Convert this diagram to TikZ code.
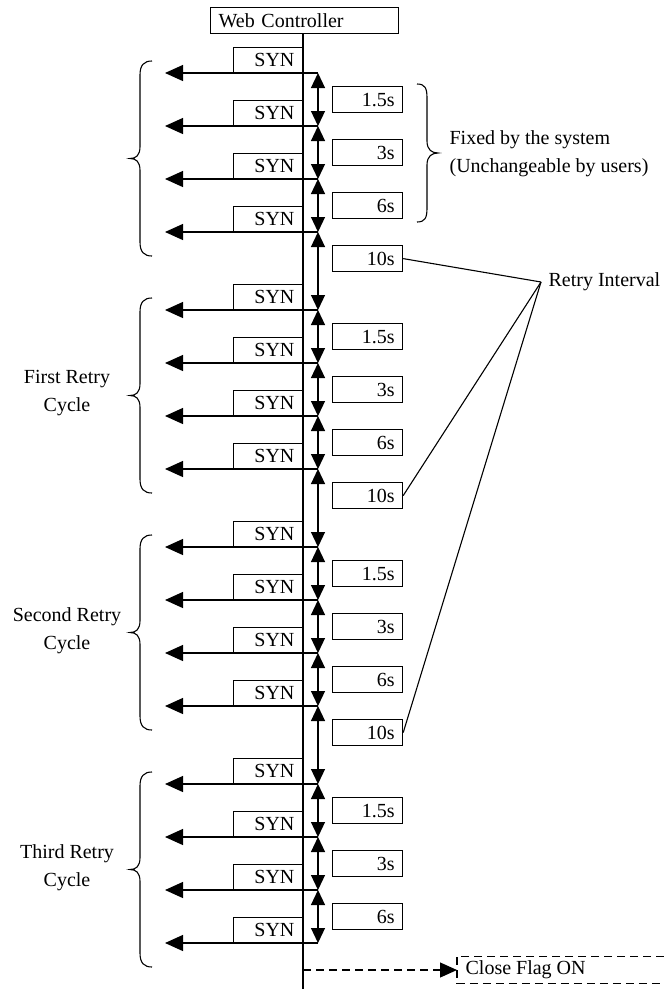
\documentclass[tikz,border=0pt]{standalone}
\usepackage{fontspec}
\setmainfont{Liberation Serif}
\usetikzlibrary{arrows.meta,calc}
\begin{document}
\begin{tikzpicture}[x=1pt,y=-1pt,line width=1.2pt,
  every node/.style={font=\fontsize{20}{28}\selectfont},
  synbox/.style={draw,text width=53pt,align=right,inner xsep=8pt,inner ysep=0pt,minimum height=25pt},
  tbox/.style={draw,text width=54pt,align=right,inner xsep=8pt,inner ysep=0pt,minimum height=26pt},
  synarr/.style={-{Triangle[length=18pt,width=16pt]}},
  dblarr/.style={{Triangle[length=15pt,width=14pt]}-{Triangle[length=15pt,width=14pt]}},
  dasharr/.style={dash pattern=on 8pt off 5pt,-{Triangle[length=17pt,width=15pt]}},
  dashbox/.style={dash pattern=on 8pt off 5pt},
  grplabel/.style={align=center,inner sep=0pt}]
\useasboundingbox (0,0) rectangle (664,989);
% Web controller and main line
\node[draw,anchor=north west,text width=172pt,align=left,inner xsep=8pt,inner ysep=0pt,minimum height=26pt] (wc) at (210,7) {Web Controller};
\coordinate (bot) at (303,989);
\draw (wc.south -| bot) -- (bot);
% SYN rows
\foreach \g in {0,...,3}{
  \foreach \k in {0,...,3}{
    \pgfmathsetmacro\yy{73+237*\g+53*\k}
    \pgfmathtruncatemacro\idx{4*\g+\k}
    \coordinate (j\idx) at (318,\yy);
    \coordinate (l\idx) at (165,\yy);
    \node[synbox,anchor=south east] (s\idx) at (303,\yy) {SYN};
    \draw[synarr] (j\idx) -- (l\idx);
  }
}
% double arrows
\foreach \i [evaluate=\i as \n using int(\i+1)] in {0,...,14}{
  \draw[dblarr] (j\i) -- (j\n);
}
% time boxes
\foreach \i/\t in {0/1.5s,1/3s,2/6s,3/10s,4/1.5s,5/3s,6/6s,7/10s,8/1.5s,9/3s,10/6s,11/10s,12/1.5s,13/3s,14/6s}{
  \path (j\i) ++(14,13) node[tbox,anchor=north west] (t\i) {\t};
}
% braces left
\foreach \g in {0,...,3}{
  \pgfmathsetmacro\top{73+237*\g-12}
  \pgfmathsetmacro\bt{73+237*\g+159+24}
  \pgfmathsetmacro\md{(\top+\bt)/2}
  \draw[line width=1.1pt] (152,\top) .. controls (144,\top) and (140,\top+4) .. (140,\top+14)
    -- (140,\md-12) .. controls (140,\md-3) and (136,\md) .. (130,\md)
    .. controls (136,\md) and (140,\md+3) .. (140,\md+12)
    -- (140,\bt-14) .. controls (140,\bt-4) and (144,\bt) .. (152,\bt);
}
% right brace
\draw[line width=1.1pt] (417,84) .. controls (425,84) and (427,88) .. (427,98)
  -- (427,141) .. controls (427,150) and (432,153) .. (438,153)
  .. controls (432,153) and (427,156) .. (427,165)
  -- (427,208) .. controls (427,218) and (425,222) .. (417,222);
\node[anchor=west,align=left,inner sep=0pt] (fx) at (449,154) {Fixed by the system\\(Unchangeable by users)};
% group labels
\node[grplabel] (l1) at (67,393.5) {First Retry\\Cycle};
\node[grplabel] (l2) at (67,630.5) {Second Retry\\Cycle};
\node[grplabel] (l3) at (67,867.5) {Third Retry\\Cycle};
% retry interval
\node[anchor=west,inner xsep=7pt,inner ysep=0pt] (ri) at (541,282) {Retry Interval};
\draw[line width=1.1pt] (t3.east) -- (ri.west);
\draw[line width=1.1pt] (t7.east) -- (ri.west);
\draw[line width=1.1pt] (t11.east) -- (ri.west);
% close flag
\coordinate (cf0) at (303,970);
\node[anchor=west,inner xsep=8pt,inner ysep=0pt,minimum height=26pt] (cf) at (457,970) {Close Flag ON};
\draw[dasharr] (cf0) -- (cf.west);
\draw[dashbox] ([xshift=207pt]cf.north west) -- (cf.north west) -- (cf.south west) -- ([xshift=207pt]cf.south west);
\end{tikzpicture}
\end{document}
